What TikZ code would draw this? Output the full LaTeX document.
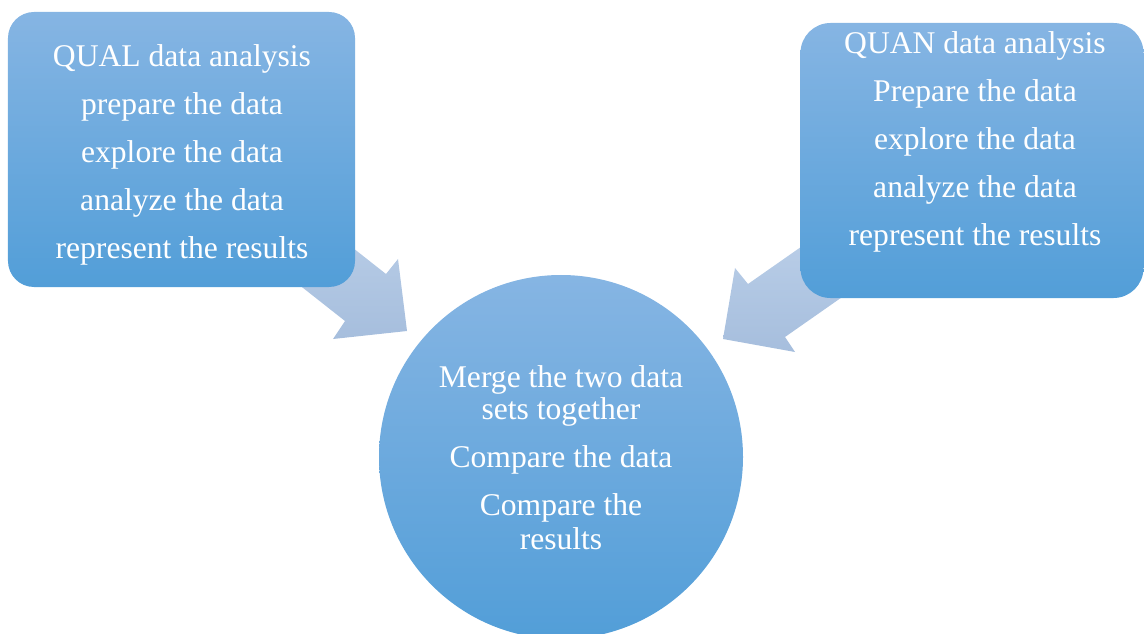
\documentclass[tikz,border=0pt]{standalone}
\usepackage{fontspec}
\setmainfont{Liberation Serif}
\begin{document}
\begin{tikzpicture}[x=1bp,y=-1bp,
  blueshade/.style={top color={rgb,255:red,134;green,181;blue,227}, bottom color={rgb,255:red,82;green,158;blue,216}, draw=none},
  arrowshade/.style={top color={rgb,255:red,192;green,211;blue,235}, bottom color={rgb,255:red,166;green,190;blue,221}, draw=none},
  txt/.style={text=white, inner sep=0pt, anchor=base, font=\fontsize{31.6bp}{38bp}\selectfont}]
\useasboundingbox (0,0) rectangle (1144,634);
% arrows (behind)
\coordinate (la1) at (268,181);
\coordinate (la2) at (386,274);
\coordinate (la3) at (398,259);
\coordinate (la4) at (407,331);
\coordinate (la5) at (333,339);
\coordinate (la6) at (345,321);
\coordinate (la7) at (227,228);
\path[arrowshade] (la1) -- (la2) -- (la3) -- (la4) -- (la5) -- (la6) -- (la7) -- cycle;
\coordinate (ra1) at (871,198);
\coordinate (ra2) at (748,284);
\coordinate (ra3) at (735,268);
\coordinate (ra4) at (723,339);
\coordinate (ra5) at (795,352);
\coordinate (ra6) at (785,337);
\coordinate (ra7) at (908,251);
\path[arrowshade] (ra1) -- (ra2) -- (ra3) -- (ra4) -- (ra5) -- (ra6) -- (ra7) -- cycle;
% boxes
\node[blueshade, rectangle, rounded corners=26bp, minimum width=347bp, minimum height=275bp, inner sep=0pt] (qual) at (181.5,149.5) {};
\node[blueshade, rectangle, rounded corners=30bp, minimum width=343bp, minimum height=275bp, inner sep=0pt] (quan) at (972,160.5) {};
\node[blueshade, circle, minimum size=364bp, inner sep=0pt] (merge) at (561,457) {};
% texts
\node[txt] (q1) at (182,67) {QUAL data analysis};
\node[txt] (q2) at (182,115) {prepare the data};
\node[txt] (q3) at (182,163) {explore the data};
\node[txt] (q4) at (182,211) {analyze the data};
\node[txt] (q5) at (182,259) {represent the results};
\node[txt] (n1) at (975,54) {QUAN data analysis};
\node[txt] (n2) at (975,102) {Prepare the data};
\node[txt] (n3) at (975,150) {explore the data};
\node[txt] (n4) at (975,198) {analyze the data};
\node[txt] (n5) at (975,246) {represent the results};
\node[txt] (m1) at (561,387) {Merge the two data};
\node[txt] (m2) at (561,419) {sets together};
\node[txt] (m3) at (561,467) {Compare the data};
\node[txt] (m4) at (561,515) {Compare the};
\node[txt] (m5) at (561,549) {results};
\end{tikzpicture}
\end{document}
